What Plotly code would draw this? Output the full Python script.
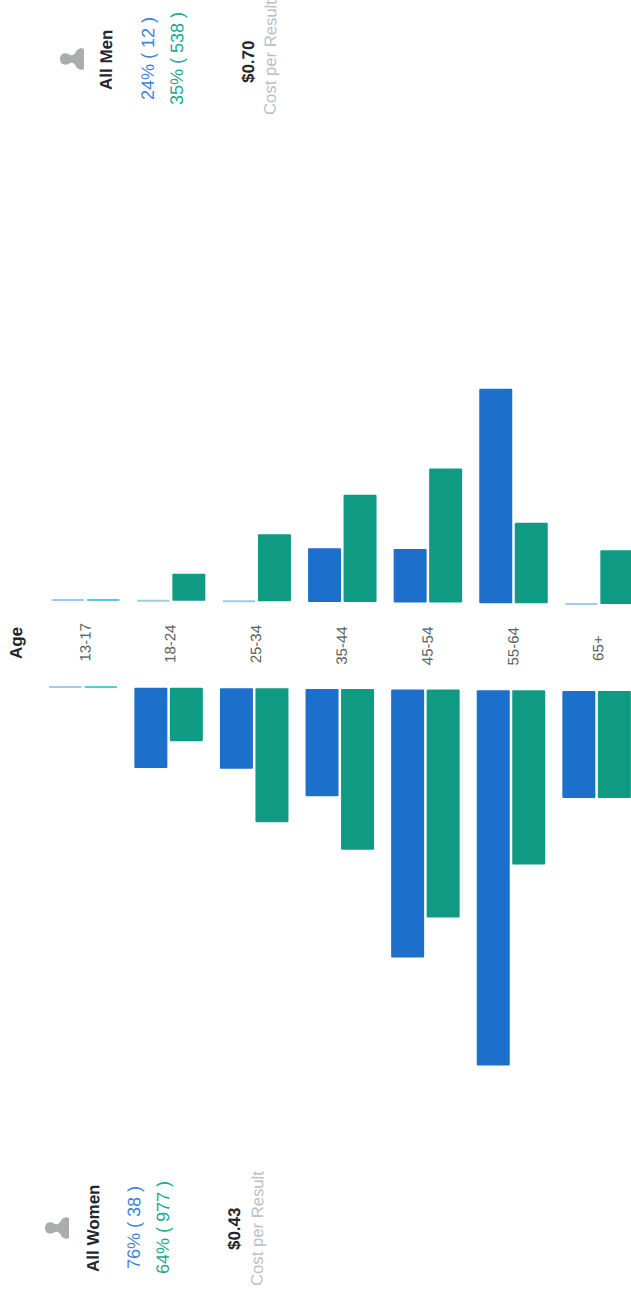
import plotly.graph_objects as go

W, H = 631, 1298

# Audience split by age, as a share of all people reached (percent)
ages = ["13-17", "18-24", "25-34", "35-44", "45-54", "55-64", "65+"]
men_results = [0, 0, 0, 4, 4, 16, 0]
men_reach = [0, 2, 5, 8, 10, 6, 4]
women_results = [0, 6, 6, 8, 20, 28, 8]
women_reach = [0, 4, 10, 12, 17, 13, 8]

BLUE = "#1c6fca"
GREEN = "#0f9a84"
LIGHT_BLUE = "#9ccbee"
LIGHT_GREEN = "#58cbd6"
TEXT_BLUE = "#3f83da"
TEXT_GREEN = "#22a893"
FONT = "Liberation Sans"
ANGLE = -89.55

PX_PER_PCT = 13.4
STEP = 85.6
SLOPE = 0.65 / PX_PER_PCT  # baseline drift per age group, in percent
OFFSET = 17.75 / STEP


def px(x):
    return x / W


def py(y):
    return 1 - y / H


idx = list(range(len(ages)))
fig = go.Figure()


def add_side(values_a, values_b, xaxis, yaxis, sign):
    base = [sign * SLOPE * i for i in idx]
    for values, color, light, shift in (
        (values_a, BLUE, LIGHT_BLUE, -OFFSET),
        (values_b, GREEN, LIGHT_GREEN, OFFSET),
    ):
        fig.add_bar(
            x=[i + shift for i in idx], y=values, base=base, width=33 / STEP,
            marker=dict(color=color, line_width=0),
            xaxis=xaxis, yaxis=yaxis, showlegend=False,
        )
        # Empty age groups are marked with a thin tick on the baseline
        empty = [i for i in idx if values[i] == 0]
        fig.add_scatter(
            x=[i + shift for i in empty], y=[base[i] for i in empty], mode="markers",
            marker=dict(symbol="line-ew", size=23, line=dict(color=light, width=2)),
            xaxis=xaxis, yaxis=yaxis, showlegend=False,
        )


add_side(men_results, men_reach, "x", "y", -1)
add_side(women_results, women_reach, "x2", "y2", 1)

fig.update_layout(
    width=W, height=H, margin=dict(l=0, r=0, t=0, b=0, autoexpand=False),
    paper_bgcolor="white", plot_bgcolor="white", barcornerradius=1.5,
    xaxis=dict(range=[-85.5 / STEP, (W - 85.5) / STEP], domain=[0, 1], visible=False, anchor="y"),
    xaxis2=dict(range=[-83 / STEP, (W - 83) / STEP], domain=[0, 1], visible=False, anchor="y2"),
    yaxis=dict(range=[-10 / PX_PER_PCT, 600 / PX_PER_PCT], domain=[py(610), 1], visible=False, anchor="x"),
    yaxis2=dict(range=[(H - 687) / PX_PER_PCT, -7 / PX_PER_PCT], domain=[0, py(680)], visible=False, anchor="x2"),
)


def label(text, x, y, size, color, bold=False):
    fig.add_annotation(
        text=f"<b>{text}</b>" if bold else text, x=px(x), y=py(y), xref="paper", yref="paper",
        showarrow=False, textangle=ANGLE, xanchor="center", yanchor="middle",
        font=dict(family=FONT, size=size, color=color),
    )


# Age labels between the two halves
label("Age", 16, 643, 17, "#20242c", bold=True)
for i, age in enumerate(ages):
    label(age, 84.5 + STEP * i, 643 + 0.8 * i, 15, "#5a5f64")

# Summary column for each side
label("All Women", 93, 1228, 17, "#23272d", bold=True)
label("76% ( 38 )", 134, 1228, 18, TEXT_BLUE)
label("64% ( 977 )", 163, 1228, 18, TEXT_GREEN)
label("$0.43", 234, 1229, 17, "#23272d", bold=True)
label("Cost per Result", 257, 1229, 16.7, "#b9c0c8")

label("All Men", 107, 60, 17, "#23272d", bold=True)
label("24% ( 12 )", 148, 59, 18, TEXT_BLUE)
label("35% ( 538 )", 177, 59, 18, TEXT_GREEN)
label("$0.70", 248, 62, 17, "#23272d", bold=True)
label("Cost per Result", 271, 58, 16.7, "#b9c0c8")


def person(cx, cy):
    """Grey silhouette lying on its side: head to the left, shoulders to the right."""
    p = lambda dx, dy: f"{px(cx + dx):.5f},{py(cy + dy):.5f}"
    path = (
        f"M{p(-12, 0)} C{p(-12, -6)} {p(-6, -7)} {p(-2, -4)} "
        f"C{p(1, -3)} {p(3, -5)} {p(5, -9)} "
        f"L{p(9, -11)} L{p(12, -10)} L{p(12, 10)} L{p(9, 11)} L{p(5, 9)} "
        f"C{p(3, 5)} {p(1, 3)} {p(-2, 4)} C{p(-6, 7)} {p(-12, 6)} {p(-12, 0)} Z"
    )
    fig.add_shape(type="path", path=path, xref="paper", yref="paper",
                  fillcolor="#a9adad", line_width=0)


person(57, 1228)
person(72, 59)

fig.write_html("out.html")
